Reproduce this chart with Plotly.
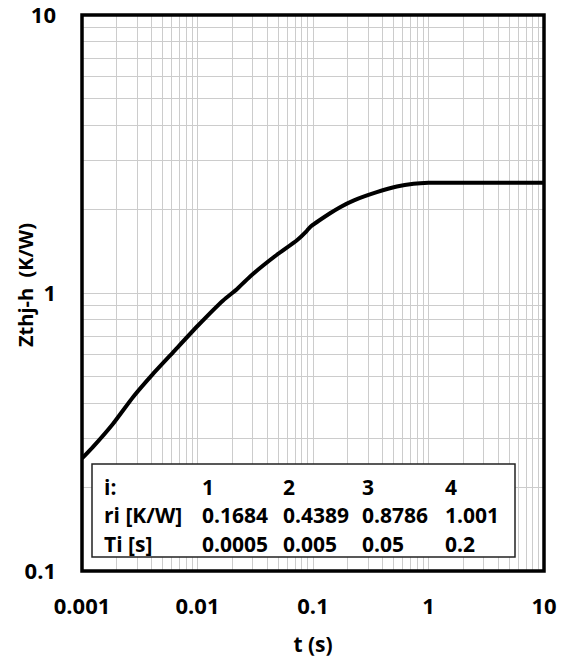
import plotly.graph_objects as go

# Transient thermal impedance junction-to-heatsink
t_s = [0.001, 0.00124, 0.00185, 0.00276, 0.00412, 0.00614, 0.0101, 0.01667,
       0.0218, 0.0284, 0.0484, 0.0722, 0.0881, 0.0942, 0.1405, 0.1715,
       0.2238, 0.357, 0.532, 0.742, 1.0, 10.0]
zth = [0.254, 0.279, 0.338, 0.422, 0.512, 0.612, 0.764, 0.94,
       1.03, 1.145, 1.37, 1.545, 1.67, 1.725, 1.935, 2.036,
       2.15, 2.305, 2.416, 2.47, 2.49, 2.49]

# Foster network parameters shown in the inset table
idx = ["1", "2", "3", "4"]
r_i = ["0.1684", "0.4389", "0.8786", "1.001"]
tau_i = ["0.0005", "0.005", "0.05", "0.2"]
row_heads = ["i:", "ri [K/W]", "Ti [s]"]

x_ticks = [0.001, 0.01, 0.1, 1, 10]
x_ticktext = ["0.001", "0.01", "0.1", "1", "10"]
y_ticks = [0.1, 1, 10]
y_ticktext = ["0.1", "1", "10"]

W, H = 567, 665
ML, MR, MT, MB = 82, 23, 15, 94
PW, PH = W - ML - MR, H - MT - MB


def px(x):
    return (x - ML) / PW


def py(y):
    return 1 - (y - MT) / PH


FONT = "Open Sans"
grid_color = "#cccccc"

fig = go.Figure()
fig.add_trace(go.Scatter(x=t_s, y=zth, mode="lines",
                         line=dict(color="black", width=4, shape="spline",
                                   smoothing=0.5),
                         showlegend=False, hoverinfo="skip"))

axis_common = dict(type="log", showline=False, zeroline=False, ticks="",
                   showgrid=True, gridcolor=grid_color, gridwidth=1,
                   minor=dict(dtick="D1", showgrid=True, gridcolor=grid_color,
                              gridwidth=1, ticks=""),
                   ticklabeloverflow="allow",
                   tickfont=dict(family=FONT, size=22, color="black",
                                 weight="bold"))

fig.update_xaxes(range=[-3, 1], tickvals=x_ticks, ticktext=x_ticktext,
                 ticklabelstandoff=20,
                 title=dict(text="t (s)", standoff=18,
                            font=dict(family=FONT, size=21, color="black",
                                      weight="bold")),
                 **axis_common)
fig.update_yaxes(range=[-1, 1], tickvals=y_ticks, ticktext=y_ticktext,
                 ticklabelstandoff=25, **axis_common)

shapes = [
    # plot frame
    dict(type="rect", xref="paper", yref="paper", x0=0, x1=1, y0=0, y1=1,
         line=dict(color="black", width=3.5), layer="above"),
    # parameter table box
    dict(type="rect", xref="paper", yref="paper",
         x0=px(92), x1=px(515), y0=py(557), y1=py(464),
         fillcolor="white", line=dict(color="#222222", width=1.5),
         layer="above"),
]

annotations = [
    # y-axis title, rotated, sitting left of the tick labels
    dict(text="Zthj-h \u00a0(K/W)", xref="paper", yref="paper",
         x=px(25), y=py(285), xanchor="center", yanchor="middle",
         textangle=-90, showarrow=False,
         font=dict(family=FONT, size=20, color="black", weight="bold")),
]
col_x = [102, 200, 281, 360, 443]
row_y = [487, 515, 544]
table_rows = [idx, r_i, tau_i]
for ri_, (head, vals) in enumerate(zip(row_heads, table_rows)):
    cells = [head] + vals
    for ci, txt in enumerate(cells):
        annotations.append(dict(
            text=txt, xref="paper", yref="paper",
            x=px(col_x[ci]), y=py(row_y[ri_]),
            xanchor="left", yanchor="middle", showarrow=False,
            font=dict(family=FONT, size=21, color="black", weight="bold")))

fig.update_layout(width=W, height=H,
                  margin=dict(l=ML, r=MR, t=MT, b=MB, autoexpand=False),
                  paper_bgcolor="white", plot_bgcolor="white",
                  shapes=shapes, annotations=annotations)

fig.write_html("out.html")
